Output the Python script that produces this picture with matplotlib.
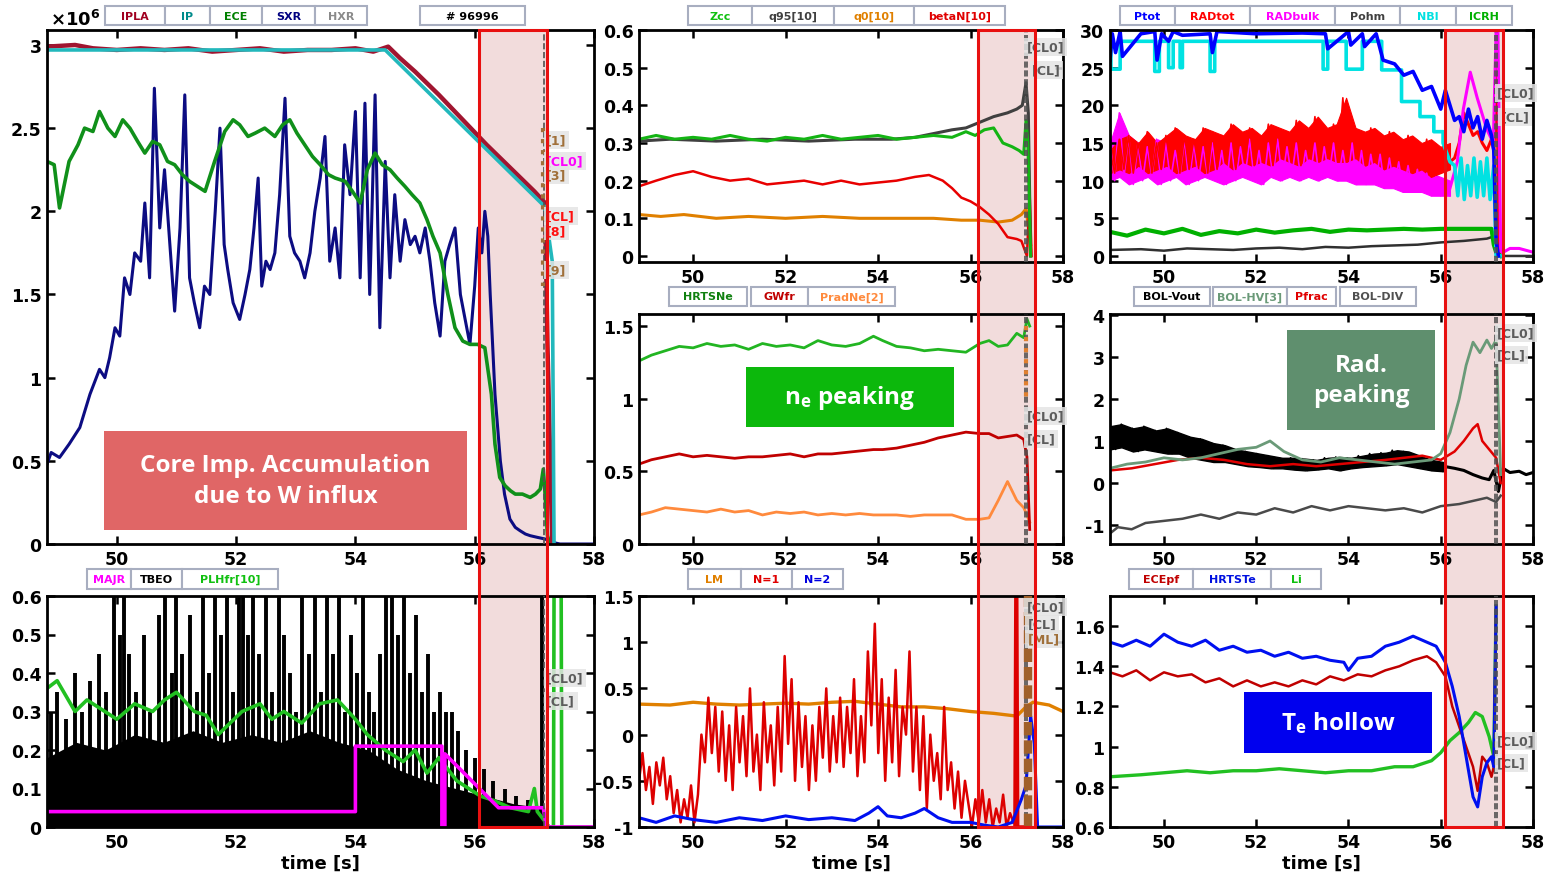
import numpy as np
import matplotlib
matplotlib.use('Agg')
import matplotlib.pyplot as plt
from matplotlib.patches import Rectangle
from matplotlib.ticker import FuncFormatter

plt.rcParams['font.family'] = 'DejaVu Sans'
plt.rcParams['font.weight'] = 'bold'
plt.rcParams['mathtext.fontset'] = 'custom'
plt.rcParams['mathtext.rm'] = 'DejaVu Sans'
plt.rcParams['mathtext.bf'] = 'DejaVu Sans:bold'
plt.rcParams['mathtext.it'] = 'Open Sans:bold'

# ---------------- data (pulse #96996) ----------------
# plasma current [MA], ECE, SXR (arb. units, x1e6)
ipla_t = [48.83, 49.3, 49.6, 50.0, 50.4, 50.8, 51.2, 51.6, 52.0, 52.4, 52.8, 53.2, 53.6,
          54.0, 54.3, 54.55, 54.75, 55.0, 55.4, 55.8, 56.2, 56.6, 57.0, 57.18, 57.22, 57.3]
ipla = [2.99, 3.0, 2.98, 2.97, 2.98, 2.97, 2.98, 2.96, 2.97, 2.98, 2.96, 2.97, 2.97,
        2.98, 2.96, 2.99, 2.92, 2.84, 2.7, 2.55, 2.4, 2.26, 2.12, 2.05, 1.2, 0.0]
ip_t = [48.83, 54.5, 57.17, 57.3, 57.33]
ip = [2.97, 2.97, 2.03, 1.7, 0.0]

ece_t = [48.83, 48.95, 49.04, 49.2, 49.35, 49.46, 49.6, 49.71, 49.85, 49.97, 50.1, 50.22, 50.35,
         50.47, 50.6, 50.72, 50.85, 50.97, 51.1, 51.22, 51.35, 51.48, 51.64, 51.81, 51.95, 52.06,
         52.2, 52.32, 52.48, 52.65, 52.78, 52.9, 53.02, 53.15, 53.28, 53.41, 53.55, 53.66, 53.83,
         53.95, 54.08, 54.2, 54.33, 54.45, 54.58, 54.7, 54.83, 54.95, 55.08, 55.2, 55.3, 55.42,
         55.55, 55.67, 55.8, 55.92, 56.05, 56.17, 56.28, 56.34, 56.42, 56.51, 56.6, 56.68, 56.8,
         56.93, 57.02, 57.1, 57.15, 57.18, 57.22, 57.26]
ece = [2.3, 2.28, 2.02, 2.3, 2.4, 2.5, 2.48, 2.6, 2.5, 2.45, 2.55, 2.5, 2.42,
       2.35, 2.42, 2.4, 2.3, 2.28, 2.22, 2.18, 2.15, 2.12, 2.3, 2.48, 2.55, 2.52,
       2.45, 2.47, 2.5, 2.45, 2.52, 2.55, 2.47, 2.4, 2.33, 2.28, 2.22, 2.2, 2.18,
       2.12, 2.05, 2.25, 2.35, 2.28, 2.25, 2.2, 2.15, 2.1, 2.05, 1.95, 1.85, 1.75,
       1.5, 1.3, 1.22, 1.2, 1.2, 1.18, 0.9, 0.6, 0.4, 0.35, 0.32, 0.3, 0.3,
       0.28, 0.3, 0.33, 0.45, 0.3, 0.05, 0.0]

sxr_t = [48.83, 48.9, 49.04, 49.2, 49.38, 49.55, 49.71, 49.8, 49.88, 49.97, 50.05, 50.13, 50.22,
         50.3, 50.4, 50.47, 50.55, 50.63, 50.72, 50.8, 50.89, 50.97, 51.06, 51.14, 51.22, 51.3,
         51.39, 51.47, 51.56, 51.65, 51.73, 51.8, 51.86, 51.95, 52.06, 52.15, 52.23, 52.3, 52.37,
         52.43, 52.5, 52.57, 52.65, 52.73, 52.82, 52.9, 52.98, 53.07, 53.15, 53.24, 53.32, 53.41,
         53.49, 53.57, 53.66, 53.74, 53.82, 53.91, 54.0, 54.08, 54.16, 54.24, 54.33, 54.41, 54.5,
         54.58, 54.66, 54.75, 54.83, 54.92, 55.0, 55.08, 55.17, 55.25, 55.33, 55.42, 55.5, 55.58,
         55.67, 55.76, 55.84, 55.92, 56.0, 56.06, 56.12, 56.17, 56.22, 56.26, 56.3, 56.34, 56.43,
         56.5, 56.59, 56.68, 56.76, 56.85, 56.93, 57.05, 57.18, 57.3, 57.43, 58.0]
sxr = [0.48, 0.55, 0.52, 0.6, 0.7, 0.9, 1.05, 1.0, 1.12, 1.3, 1.25, 1.6, 1.5,
       1.75, 1.7, 2.05, 1.6, 2.74, 1.9, 2.25, 1.8, 1.4, 1.9, 2.7, 1.6, 1.45,
       1.3, 1.55, 1.5, 2.0, 2.5, 1.8, 1.65, 1.45, 1.35, 1.5, 1.65, 1.9, 2.2,
       1.55, 1.7, 1.65, 1.75, 2.1, 2.68, 1.85, 1.75, 1.7, 1.6, 1.75, 2.0, 2.2,
       2.45, 1.7, 1.9, 1.6, 2.4, 2.1, 2.6, 1.6, 2.65, 1.5, 2.7, 1.3, 2.3,
       1.6, 2.1, 1.7, 1.95, 1.8, 1.85, 1.75, 1.9, 1.7, 1.45, 1.25, 1.7, 1.8,
       1.9, 1.5, 1.35, 1.2, 1.55, 1.9, 1.75, 2.0, 1.85, 1.5, 1.2, 0.9, 0.5,
       0.3, 0.15, 0.1, 0.08, 0.06, 0.05, 0.04, 0.03, 0.01, 0.0, 0.0]

# Zcc, q95, q0, betaN
zcc_t = [48.83, 49.2, 49.6, 50.0, 50.4, 50.8, 51.2, 51.6, 52.0, 52.4, 52.8, 53.2, 53.6, 54.0, 54.4,
         54.8, 55.2, 55.6, 55.9, 56.1, 56.3, 56.5, 56.7, 56.9, 57.05, 57.15, 57.2, 57.24, 57.3]
zcc = [0.31, 0.32, 0.31, 0.315, 0.31, 0.32, 0.31, 0.305, 0.315, 0.31, 0.32, 0.31, 0.315, 0.32, 0.31,
       0.315, 0.32, 0.315, 0.33, 0.32, 0.335, 0.34, 0.3, 0.29, 0.28, 0.27, 0.36, 0.3, 0.0]
q95_t = [48.83, 49.5, 50.5, 51.5, 52.5, 53.5, 54.3, 54.8, 55.2, 55.6, 55.9, 56.2, 56.5, 56.8,
         57.0, 57.12, 57.2, 57.25, 57.3]
q95 = [0.305, 0.31, 0.305, 0.31, 0.305, 0.31, 0.31, 0.315, 0.325, 0.335, 0.34, 0.355, 0.37, 0.38,
       0.39, 0.4, 0.46, 0.38, 0.0]
q0_t = [48.83, 49.3, 49.8, 50.5, 51.2, 52.0, 52.8, 53.6, 54.4, 55.2, 55.8, 56.2, 56.6, 56.9,
        57.1, 57.2, 57.3]
q0 = [0.11, 0.105, 0.11, 0.1, 0.105, 0.1, 0.105, 0.1, 0.1, 0.1, 0.095, 0.095, 0.09, 0.095,
      0.11, 0.125, 0.03]
betan_t = [48.83, 49.2, 49.6, 50.0, 50.4, 50.8, 51.2, 51.6, 52.0, 52.4, 52.8, 53.2, 53.6, 54.0,
           54.4, 54.8, 55.1, 55.4, 55.6, 55.8, 56.0, 56.2, 56.4, 56.6, 56.8, 57.0, 57.1, 57.22,
           57.28, 57.32]
betan = [0.185, 0.2, 0.215, 0.225, 0.21, 0.2, 0.205, 0.19, 0.195, 0.2, 0.19, 0.2, 0.19, 0.195,
         0.2, 0.21, 0.215, 0.2, 0.18, 0.155, 0.145, 0.13, 0.11, 0.085, 0.05, 0.045, 0.04, 0.0,
         0.16, 0.0]

# HRTS ne peaking, Greenwald fraction, Prad/ne
ne_t = [48.83, 49.1, 49.4, 49.7, 50.0, 50.3, 50.6, 50.9, 51.2, 51.5, 51.8, 52.1, 52.4, 52.7,
        53.0, 53.3, 53.6, 53.9, 54.1, 54.4, 54.7, 55.0, 55.3, 55.6, 55.9, 56.2, 56.4, 56.6,
        56.8, 57.0, 57.15, 57.22, 57.28]
hrtsne = [1.26, 1.3, 1.33, 1.36, 1.35, 1.38, 1.36, 1.37, 1.34, 1.38, 1.36, 1.37, 1.35, 1.4,
          1.37, 1.36, 1.38, 1.43, 1.4, 1.36, 1.35, 1.33, 1.34, 1.33, 1.32, 1.38, 1.4, 1.36,
          1.37, 1.45, 1.42, 1.55, 1.5]
gwfr = [0.55, 0.58, 0.6, 0.62, 0.6, 0.61, 0.6, 0.59, 0.6, 0.6, 0.61, 0.62, 0.6, 0.62,
        0.62, 0.63, 0.64, 0.65, 0.65, 0.66, 0.68, 0.7, 0.73, 0.75, 0.77, 0.76, 0.76, 0.73,
        0.74, 0.75, 0.72, 0.6, 0.1]
pradne = [0.2, 0.22, 0.25, 0.24, 0.23, 0.22, 0.24, 0.22, 0.23, 0.2, 0.22, 0.21, 0.22, 0.2,
          0.21, 0.2, 0.21, 0.2, 0.2, 0.2, 0.19, 0.2, 0.2, 0.2, 0.17, 0.17, 0.18, 0.3,
          0.43, 0.3, 0.25, 0.2, 0.15]

# MHD: locked mode, n=1, n=2
lm_t = [48.83, 49.5, 50.0, 50.5, 51.0, 51.5, 52.0, 52.5, 53.0, 53.5, 54.0, 54.5, 55.0, 55.5,
        56.0, 56.5, 57.0, 57.2, 57.35, 57.7, 58.0]
lm = [0.33, 0.32, 0.35, 0.33, 0.32, 0.33, 0.34, 0.33, 0.35, 0.36, 0.33, 0.3, 0.3, 0.28,
      0.25, 0.23, 0.2, 0.3, 0.35, 0.32, 0.25]
n1 = [-0.5, -0.2, -0.6, -0.35, -0.75, -0.3, -0.55, -0.25, -0.7, -0.45,
      -0.85, -0.6, -0.95, -0.7, -0.9, -0.55, -0.95, -0.65, 0.0, -0.3,
      0.4, -0.2, 0.3, -0.4, 0.25, -0.5, 0.1, -0.6, 0.3, -0.3,
      0.2, -0.45, 0.5, -0.4, 0.0, -0.6, 0.35, -0.3, 0.1, -0.55,
      0.3, -0.4, 0.85, -0.1, 0.6, -0.5, 0.35, -0.35, 0.2, -0.6,
      0.1, -0.5, 0.3, -0.25, 0.5, -0.4, 0.2, -0.3, 0.4, -0.35,
      0.3, -0.2, 0.6, -0.45, 0.2, -0.3, 0.9, 0.1, 1.2, -0.2,
      0.6, -0.5, 0.4, -0.3, 0.7, -0.45, 0.3, 0.0, 0.9, -0.4,
      0.3, -0.6, 0.2, -0.8, 0.0, -0.5, -0.2, -0.7, 0.3, -0.6,
      -0.3, -0.8, -0.4, -0.9, -0.5, -0.75, -1.0, -0.7, -0.95, -0.6,
      -0.95, -0.7, -1.0, -0.8, -0.95, -0.65, -1.0, -0.85, -0.95]
n1_tail_t = [56.96, 56.98, 57.0, 57.02, 57.15]
n1_tail = [-1.0, 1.5, 1.5, -1.0, -1.0]
n2_t = [48.83, 49.2, 49.6, 50.0, 50.5, 51.0, 51.5, 52.0, 52.5, 53.0, 53.5, 53.8, 54.0, 54.2,
        54.5, 54.8, 55.0, 55.3, 55.6, 56.0, 56.3, 56.6, 56.9, 57.1, 57.2, 57.3, 57.38, 57.45, 58.0]
n2 = [-0.9, -0.95, -0.88, -0.92, -0.95, -0.9, -0.93, -0.88, -0.92, -0.9, -0.93, -0.85, -0.78, -0.88,
      -0.9, -0.85, -0.8, -0.9, -0.95, -0.95, -0.98, -1.0, -0.95, -0.7, -0.55, 0.2, -0.1, -1.0, -1.0]

# Powers [MW]
nbi_t = [48.83, 48.85, 48.85, 49.05, 49.05, 49.8, 49.8, 49.9, 49.9, 50.1, 50.1, 50.2, 50.2,
         50.35, 50.35, 50.4, 50.4, 51.0, 51.0, 51.1, 51.1, 53.45, 53.45, 53.55, 53.55, 53.95,
         53.95, 54.3, 54.3, 54.72, 54.72, 55.15, 55.15, 55.55, 55.55, 55.85, 55.85, 56.05, 56.05,
         56.2, 56.3, 56.37, 56.44, 56.51, 56.58, 56.65, 56.72, 56.79, 56.86, 56.93, 57.0, 57.07,
         57.15, 57.2, 57.3]
nbi = [28.5, 28.5, 24.8, 24.8, 28.5, 28.5, 24.5, 24.5, 28.5, 28.5, 25.0, 25.0, 28.5,
       28.5, 25.0, 25.0, 28.5, 28.5, 24.5, 24.5, 28.5, 28.5, 24.8, 24.8, 28.5, 28.5,
       24.8, 24.8, 28.5, 28.5, 24.7, 24.7, 20.5, 20.5, 18.5, 18.5, 16.5, 16.5, 15.0,
       12.5, 12.0, 8.0, 13.0, 7.5, 12.0, 8.0, 13.0, 7.8, 12.5, 8.0, 13.0, 7.5,
       12.0, 0.0, 0.0]
ptot_t = [48.83, 48.88, 48.95, 49.05, 49.1, 49.5, 49.8, 49.85, 49.95, 50.1, 50.2, 50.4, 51.0,
          51.05, 51.15, 52.0, 53.0, 53.5, 53.55, 54.0, 54.05, 54.3, 54.35, 54.6, 54.75, 55.0,
          55.2, 55.4, 55.6, 55.8, 56.0, 56.1, 56.2, 56.3, 56.4, 56.5, 56.6, 56.7, 56.8, 56.9,
          57.0, 57.1, 57.15, 57.2, 57.25]
ptot = [26.0, 29.5, 27.0, 29.8, 26.5, 29.5, 29.8, 26.0, 29.5, 28.5, 29.8, 29.3, 29.5,
        27.0, 29.8, 29.5, 29.6, 29.5, 27.5, 29.8, 28.0, 29.5, 27.8, 29.5, 26.0, 25.5,
        24.0, 24.5, 22.0, 22.5, 19.5, 22.0, 20.0, 18.0, 18.5, 16.5, 19.5, 17.0, 18.5, 15.5,
        18.0, 16.0, 14.0, 2.0, 0.0]
rad_hi = [14, 15.5, 16, 15, 16.5, 15, 16, 17, 16, 15.5, 17, 16.5, 16, 17.5, 16.5, 17, 16, 17.5,
          17, 16.5, 18, 17, 18.5, 17, 17.5, 21, 17, 16.5, 17, 16, 16.5, 15.5, 16, 15, 15.5,
          14.5, 15]
rad_lo = [11, 11.5, 11, 12, 11, 11.5, 12, 11, 11.5, 12, 11, 11.5, 12.5, 11.5, 12.5, 12, 12.5,
          12, 13, 12.5, 12, 13, 12.5, 13, 12.5, 12.5, 13, 12, 12.5, 11.5, 12, 11.5, 11, 11.5,
          10.5, 11, 11.5]
radtot_t = [56.2, 56.3, 56.4, 56.5, 56.6, 56.7, 56.8, 56.9, 57.0, 57.1, 57.15, 57.2, 57.22,
            57.25, 57.3]
radtot = [12.5, 13.0, 15.0, 19.0, 17.5, 16.0, 16.5, 15.0, 14.0, 15.5, 14.0, 20.0, 30.0, 0.5, 0.3]
bulk_hi = [15, 19, 16, 15, 14.5, 15.5, 15, 14, 15.5, 15, 14.5, 15, 14, 15, 14.5, 15.5, 14, 15,
           15.5, 14.5, 15, 14, 15, 14.5, 15, 14, 15, 14, 13.5, 13.5, 13, 12.5, 12, 11.5, 11,
           10.5, 10]
bulk_lo = [10, 10.5, 9.5, 10, 10.5, 9.5, 10, 10.5, 9.5, 10, 10.5, 10, 9.5, 10, 10.5, 10, 9.5,
           10.5, 10, 10.5, 10, 10.5, 10, 10.5, 10, 10, 9.5, 9.5, 9.5, 9, 9, 8.5, 8.5, 8.5, 8,
           8, 8]
radbulk_t = [56.2, 56.36, 56.49, 56.64, 56.79, 57.0, 57.14, 57.2, 57.24, 57.3, 57.5, 57.7, 58.0]
radbulk = [9.0, 12.5, 19.5, 24.4, 21.0, 16.8, 15.0, 30.0, 30.0, 0.3, 1.0, 1.0, 0.5]
pohm_t = [48.83, 49.5, 50.0, 50.5, 51.0, 51.5, 52.0, 52.5, 53.0, 53.5, 54.0, 54.5, 55.0, 55.5,
          56.0, 56.5, 57.0, 57.15, 57.2, 57.3, 58.0]
pohm = [0.8, 0.9, 0.7, 1.0, 0.9, 0.8, 1.0, 1.1, 0.9, 1.2, 1.1, 1.3, 1.4, 1.5,
        1.8, 2.0, 2.3, 2.6, 0.3, 0.0, 0.0]
icrh_t = [48.83, 49.2, 49.6, 50.0, 50.4, 50.8, 51.2, 51.6, 52.0, 52.4, 52.8, 53.2, 53.6, 54.0,
          54.4, 54.8, 55.2, 55.6, 56.0, 56.4, 56.8, 57.1, 57.15, 57.2, 57.3]
icrh = [3.2, 2.7, 3.5, 3.0, 3.6, 2.8, 3.3, 3.0, 3.5, 3.1, 3.4, 3.6, 3.2, 3.5,
        3.4, 3.5, 3.6, 3.5, 3.6, 3.6, 3.6, 3.6, 1.5, 0.5, 0.0]

# Bolometry peaking
vout_hi = [1.35, 1.4, 1.3, 1.35, 1.25, 1.3, 1.2, 1.1, 1.05, 0.95, 0.9, 0.8, 0.75, 0.7, 0.65,
           0.6, 0.6, 0.58, 0.55, 0.6, 0.62, 0.6, 0.65, 0.7, 0.72, 0.78, 0.75, 0.65, 0.55, 0.5]
vout_lo = [0.8, 0.85, 0.75, 0.8, 0.75, 0.7, 0.7, 0.6, 0.55, 0.5, 0.5, 0.45, 0.4, 0.38, 0.35,
           0.35, 0.32, 0.3, 0.32, 0.35, 0.3, 0.35, 0.38, 0.4, 0.42, 0.45, 0.4, 0.35, 0.3, 0.28]
vout_tail_t = [56.05, 56.3, 56.5, 56.7, 56.9, 57.05, 57.15, 57.25, 57.35, 57.5, 57.7, 57.85, 58.0]
vout_tail = [0.4, 0.35, 0.3, 0.2, 0.12, 0.08, 0.3, -0.2, 0.35, 0.25, 0.28, 0.2, 0.25]
bolhv_t = [48.83, 49.2, 49.6, 50.0, 50.4, 50.8, 51.2, 51.6, 52.0, 52.3, 52.6, 53.0, 53.4, 53.8,
           54.2, 54.6, 55.0, 55.4, 55.8, 56.0, 56.2, 56.4, 56.55, 56.7, 56.85, 57.0, 57.1, 57.2,
           57.3]
bolhv = [0.35, 0.45, 0.5, 0.6, 0.55, 0.6, 0.7, 0.8, 0.85, 1.0, 0.75, 0.55, 0.5, 0.6,
         0.55, 0.5, 0.45, 0.5, 0.55, 0.7, 1.2, 2.0, 2.8, 3.35, 3.1, 3.4, 3.2, 3.4, 0.2]
pfrac_t = [48.83, 49.3, 49.8, 50.3, 50.8, 51.3, 51.8, 52.3, 52.8, 53.3, 53.8, 54.3, 54.8, 55.2,
           55.6, 56.0, 56.3, 56.5, 56.7, 56.8, 56.9, 57.05, 57.2, 57.3]
pfrac = [0.3, 0.35, 0.45, 0.55, 0.6, 0.55, 0.45, 0.4, 0.45, 0.4, 0.45, 0.5, 0.55, 0.6,
         0.65, 0.55, 0.75, 1.0, 1.3, 1.4, 1.0, 0.8, 0.6, 0.0]
boldiv_t = [48.83, 49.0, 49.3, 49.6, 50.0, 50.4, 50.8, 51.2, 51.6, 52.0, 52.4, 52.8, 53.2, 53.6,
            54.0, 54.4, 54.8, 55.2, 55.6, 56.0, 56.4, 56.8, 57.0, 57.2, 57.3]
boldiv = [-1.2, -1.05, -1.1, -0.95, -0.9, -0.85, -0.75, -0.85, -0.7, -0.75, -0.6, -0.7, -0.55,
          -0.65, -0.55, -0.6, -0.65, -0.6, -0.7, -0.55, -0.5, -0.4, -0.35, -0.45, -0.3]

# L-H power fraction, MAJR, TBEO
tbeo_band = [0.18, 0.22, 0.2, 0.24, 0.22, 0.25, 0.22, 0.24, 0.22, 0.25, 0.22, 0.2, 0.15, 0.12,
             0.1, 0.08, 0.06, 0.05]
spike_t = [48.9, 49.0, 49.15, 49.3, 49.42, 49.55, 49.7, 49.82, 49.95, 50.05, 50.12, 50.2, 50.33,
           50.45, 50.55, 50.7, 50.8, 50.92, 51.0, 51.1, 51.22, 51.35, 51.45, 51.55, 51.65, 51.75,
           51.85, 51.95, 52.05, 52.12, 52.2, 52.28, 52.38, 52.5, 52.6, 52.72, 52.8, 52.9, 53.0,
           53.1, 53.22, 53.32, 53.42, 53.52, 53.62, 53.72, 53.82, 53.92, 54.02, 54.12, 54.22,
           54.32, 54.42, 54.52, 54.62, 54.72, 54.82, 54.92, 55.02, 55.12, 55.22, 55.32, 55.42,
           55.52, 55.62, 55.72, 55.85, 56.0, 56.15, 56.3, 56.5, 56.7, 56.9, 57.12]
spike_h = [0.3, 0.35, 0.28, 0.4, 0.3, 0.38, 0.45, 0.35, 0.6, 0.5, 0.6, 0.45, 0.35,
           0.5, 0.3, 0.55, 0.6, 0.4, 0.6, 0.45, 0.55, 0.35, 0.6, 0.4, 0.6, 0.5,
           0.6, 0.35, 0.6, 0.6, 0.5, 0.6, 0.45, 0.6, 0.35, 0.6, 0.5, 0.4, 0.3,
           0.6, 0.45, 0.6, 0.35, 0.6, 0.45, 0.6, 0.3, 0.5, 0.4, 0.6, 0.35,
           0.3, 0.45, 0.6, 0.6, 0.5, 0.6, 0.4, 0.55, 0.35, 0.45, 0.3, 0.35,
           0.3, 0.3, 0.25, 0.2, 0.18, 0.15, 0.12, 0.1, 0.08, 0.07, 0.6]
majr_t = [48.83, 54.0, 54.0, 55.45, 55.45, 55.5, 55.5, 56.4, 57.15, 57.2, 58.0]
majr = [0.04, 0.04, 0.21, 0.21, 0.0, 0.0, 0.19, 0.05, 0.05, 0.0, 0.0]
plh_t = [48.83, 49.0, 49.3, 49.5, 49.7, 50.0, 50.3, 50.6, 50.8, 51.0, 51.3, 51.5, 51.7, 51.9,
         52.1, 52.4, 52.6, 52.8, 53.1, 53.4, 53.7, 54.0, 54.2, 54.5, 54.8, 55.0, 55.2, 55.4,
         55.5, 55.7, 55.9, 56.1, 56.3, 56.6, 56.9, 57.0, 57.05, 57.15, 57.25, 57.32, 57.33,
         57.45, 57.46, 58.0]
plh = [0.36, 0.38, 0.3, 0.33, 0.31, 0.28, 0.32, 0.3, 0.33, 0.35, 0.3, 0.29, 0.24, 0.27,
       0.3, 0.32, 0.28, 0.3, 0.27, 0.32, 0.33, 0.28, 0.24, 0.2, 0.17, 0.2, 0.14, 0.18,
       0.16, 0.12, 0.1, 0.08, 0.07, 0.05, 0.04, 0.1, 0.04, 0.02, 0.0, 0.0, 0.6,
       0.6, 0.0, 0.0]

# Te hollowness
te_t = [48.83, 49.1, 49.4, 49.7, 50.0, 50.3, 50.6, 50.9, 51.2, 51.5, 51.8, 52.1, 52.4, 52.7,
        53.0, 53.3, 53.6, 53.9, 54.0, 54.2, 54.5, 54.8, 55.1, 55.4, 55.7, 55.9, 56.1, 56.25,
        56.4, 56.55, 56.7, 56.8, 56.9, 57.0, 57.1, 57.15, 57.2]
hrtste = [1.52, 1.5, 1.53, 1.5, 1.56, 1.52, 1.5, 1.53, 1.48, 1.5, 1.47, 1.48, 1.45, 1.47,
          1.44, 1.45, 1.43, 1.42, 1.38, 1.44, 1.45, 1.5, 1.52, 1.55, 1.52, 1.5, 1.42, 1.3,
          1.15, 0.95, 0.75, 0.7, 0.85, 0.92, 0.95, 0.9, 1.7]
ecepf = [1.37, 1.35, 1.38, 1.33, 1.37, 1.35, 1.36, 1.32, 1.34, 1.3, 1.33, 1.3, 1.32, 1.3,
         1.33, 1.31, 1.35, 1.33, 1.34, 1.36, 1.35, 1.38, 1.4, 1.43, 1.45, 1.42, 1.35, 1.2,
         1.1, 1.0, 0.9, 0.78, 0.95, 0.92, 0.85, 0.9, 1.7]
li_t = [48.83, 49.5, 50.0, 50.5, 51.0, 51.5, 52.0, 52.5, 53.0, 53.5, 54.0, 54.5, 55.0, 55.4,
        55.8, 56.0, 56.2, 56.4, 56.6, 56.75, 56.9, 57.05, 57.15, 57.2]
li = [0.85, 0.86, 0.87, 0.88, 0.87, 0.88, 0.88, 0.89, 0.88, 0.87, 0.88, 0.88, 0.9, 0.9,
      0.93, 0.97, 1.03, 1.07, 1.12, 1.17, 1.15, 1.05, 0.95, 1.7]

xticks = [50, 52, 54, 56, 58]
cursor_t = [57.17, 57.23]
win_left = (56.07, 57.21)
win_mid = (56.16, 57.39)
win_right = (56.1, 57.35)

# ---------------- figure ----------------
W, H = 1546, 878
fig = plt.figure(figsize=(W / 100, H / 100), dpi=100)


def px_rect(x0, y0, x1, y1):
    return [x0 / W, 1 - y1 / H, (x1 - x0) / W, (y1 - y0) / H]


fmt = FuncFormatter(lambda v, p: '%g' % round(v, 3))


def style(ax, ylim, yticks, xlabel=False):
    ax.set_xlim(48.83, 58)
    ax.set_ylim(*ylim)
    ax.set_xticks(xticks)
    ax.set_yticks(yticks)
    ax.yaxis.set_major_formatter(fmt)
    ax.tick_params(direction='in', length=6, width=1.8, top=True, right=True,
                   labelsize=12.5, pad=4)
    for lab in ax.get_xticklabels() + ax.get_yticklabels():
        lab.set_fontweight('bold')
    for s in ax.spines.values():
        s.set_linewidth(2)
    ax.set_facecolor('none')
    for t in cursor_t:
        ax.axvline(t, color='#505050', ls='--', lw=1.2, zorder=4)
    if xlabel:
        ax.set_xlabel('time [s]', fontsize=13, fontweight='bold', labelpad=2)


def tag(ax, x, y, s, color='#5c5c5c'):
    ax.text(x, y, s, fontsize=9, color=color, fontweight='bold', ha='left', va='center',
            zorder=7, clip_on=False,
            bbox=dict(facecolor='#e4e4e4', edgecolor='none', alpha=0.85, pad=1.8))


def zigzag(t, hi, lo):
    # trace alternating between the read upper and lower envelope values
    tt = np.linspace(t[0], t[-1], 2 * len(t))
    vv = np.ravel(np.column_stack([hi, lo]))
    return tt, vv


def legend_cells(edges, y0, y1, labels, colors):
    for (a, b), lab, col in zip(edges, labels, colors):
        fig.patches.append(Rectangle((a / W, 1 - y1 / H), (b - a) / W, (y1 - y0) / H,
                                     transform=fig.transFigure, facecolor='white',
                                     edgecolor='#a8aec0', lw=1.5, zorder=3))
        fig.text((a + b) / 2 / W, 1 - (y0 + y1) / 2 / H, lab, color=col, fontsize=8,
                 fontweight='bold', ha='center', va='center', zorder=4)


def note_box(x0, y0, x1, y1, s, color):
    fig.patches.append(Rectangle((x0 / W, 1 - y1 / H), (x1 - x0) / W, (y1 - y0) / H,
                                 transform=fig.transFigure, facecolor=color, edgecolor='none',
                                 zorder=8))
    fig.text((x0 + x1) / 2 / W, 1 - (y0 + y1) / 2 / H, s, color='white', fontsize=17.5,
             family='Open Sans', fontweight='bold', ha='center', va='center', zorder=9,
             linespacing=1.35)


# top-left: currents, ECE, SXR
ax = fig.add_axes(px_rect(47, 31, 594, 545))
ax.plot(sxr_t, sxr, color='#0c0c82', lw=2.2)
ax.plot(ece_t, ece, color='#10901a', lw=2.6)
ax.plot(ipla_t, ipla, color='#a01530', lw=3.2)
ax.plot(ip_t, ip, color='#22b8bc', lw=2.6)
ax.plot([57.14, 57.14], [2.5, 1.55], ls=':', color='#a0703a', lw=3, zorder=5)
style(ax, (0, 3.09), [0, 0.5, 1, 1.5, 2, 2.5, 3])
for y, s, c in [(2.43, '[1]', '#a0703a'), (2.3, '[CL0]', '#ff00ff'), (2.22, '[3]', '#a0703a'),
                (1.97, '[CL]', '#ff1010'), (1.88, '[8]', '#ff1010'), (1.65, '[9]', '#a0703a')]:
    tag(ax, 57.2, y, s, c)
ax_tl = ax
fig.text(50 / W, 1 - 20 / H, r'$\times\mathbf{10^{6}}$', fontsize=13, va='center')

# bottom-left: L-H fraction etc.
ax = fig.add_axes(px_rect(47, 597, 594, 828))
ax.fill_between(np.linspace(48.83, 57.15, len(tbeo_band)), 0, tbeo_band, color='black', lw=0)
ax.vlines(spike_t, 0, spike_h, color='black', lw=2.8)
ax.plot(plh_t, plh, color='#22c022', lw=2.6)
ax.plot(majr_t, majr, color='#ff00ff', lw=2.6)
style(ax, (0, 0.6), [0, 0.1, 0.2, 0.3, 0.4, 0.5, 0.6], xlabel=True)
tag(ax, 57.2, 0.387, '[CL0]')
tag(ax, 57.2, 0.327, '[CL]')
ax_bl = ax

# top-middle
ax = fig.add_axes(px_rect(639, 31, 1063, 263))
ax.plot(q0_t, q0, color='#e08000', lw=2.2)
ax.plot(betan_t, betan, color='#e80000', lw=1.8)
ax.plot(q95_t, q95, color='#404040', lw=2.2)
ax.plot(zcc_t, zcc, color='#14b414', lw=2.2)
style(ax, (-0.016, 0.6), [0, 0.1, 0.2, 0.3, 0.4, 0.5, 0.6])
tag(ax, 57.22, 0.554, '[CL0]')
tag(ax, 57.33, 0.493, '[CL]')
ax_tm = ax

# middle-middle
ax = fig.add_axes(px_rect(639, 315, 1063, 545))
ax.plot(ne_t, pradne, color='#ff8a3d', lw=2.0)
ax.plot(ne_t, gwfr, color='#c00000', lw=2.0)
ax.plot(ne_t, hrtsne, color='#22b522', lw=2.0)
ax.plot([57.2, 57.2], [1.5, 1.0], ls=':', color='#e08030', lw=3, zorder=5)
style(ax, (0, 1.583), [0, 0.5, 1, 1.5])
tag(ax, 57.22, 0.88, '[CL0]')
tag(ax, 57.22, 0.72, '[CL]')

# bottom-middle
ax = fig.add_axes(px_rect(639, 597, 1063, 828))
ax.plot(lm_t, lm, color='#e08000', lw=2.4)
ax.plot(np.linspace(48.83, 56.93, len(n1)), n1, color='#dd0000', lw=1.8)
ax.plot(n1_tail_t, n1_tail, color='#dd0000', lw=2.5)
ax.plot(n2_t, n2, color='#0010f0', lw=2.2)
ax.plot([57.24, 57.24], [-1, 1.5], color='#a0602a', lw=6, dashes=(1.6, 0.6), zorder=5)
style(ax, (-1, 1.5), [-1, -0.5, 0, 0.5, 1, 1.5], xlabel=True)
tag(ax, 57.22, 1.38, '[CL0]')
tag(ax, 57.24, 1.2, '[CL]')
tag(ax, 57.24, 1.03, '[ML]', '#a0703a')
ax_bm = ax

# top-right: powers
ax = fig.add_axes(px_rect(1110, 31, 1533, 263))
rad_t = np.linspace(48.83, 56.2, len(rad_hi))
ax.fill_between(rad_t, bulk_lo, bulk_hi, color='#ff00ff', lw=0.8)
ax.plot(*zigzag(rad_t, bulk_hi, bulk_lo), color='#ff00ff', lw=1.2)
ax.fill_between(rad_t, rad_lo, rad_hi, color='#ff0000', lw=0.8)
ax.plot(*zigzag(rad_t, rad_hi, rad_lo), color='#ff0000', lw=1.2)
ax.plot(radtot_t, radtot, color='#ff0000', lw=2.2)
ax.plot(radbulk_t, radbulk, color='#ff00ff', lw=2.2)
ax.plot(pohm_t, pohm, color='#303030', lw=1.8)
ax.plot(icrh_t, icrh, color='#00b000', lw=3.0)
ax.plot(nbi_t, nbi, color='#00e2e2', lw=2.6)
ax.plot(ptot_t, ptot, color='#0000ff', lw=2.6)
style(ax, (-0.8, 30), [0, 5, 10, 15, 20, 25, 30])
tag(ax, 57.22, 21.6, '[CL0]')
tag(ax, 57.3, 18.5, '[CL]')
ax_tr = ax

# middle-right: bolometry
ax = fig.add_axes(px_rect(1110, 315, 1533, 545))
ax.plot(boldiv_t, boldiv, color='#4a4a4a', lw=1.8)
vout_t = np.linspace(48.83, 56.05, len(vout_hi))
ax.fill_between(vout_t, vout_lo, vout_hi, color='black', lw=1)
ax.plot(*zigzag(vout_t, vout_hi, vout_lo), color='black', lw=1.2)
ax.plot(vout_tail_t, vout_tail, color='black', lw=2.2)
ax.plot(pfrac_t, pfrac, color='#e00000', lw=1.8)
ax.plot(bolhv_t, bolhv, color='#6a9a78', lw=2.0)
style(ax, (-1.45, 4.02), [-1, 0, 1, 2, 3, 4])
tag(ax, 57.22, 3.58, '[CL0]')
tag(ax, 57.22, 3.04, '[CL]')

# bottom-right: Te
ax = fig.add_axes(px_rect(1110, 597, 1533, 828))
ax.plot(li_t, li, color='#22c022', lw=2.4)
ax.plot(te_t, ecepf, color='#c00000', lw=1.8)
ax.plot(te_t, hrtste, color='#0010f0', lw=2.2)
style(ax, (0.6, 1.75), [0.6, 0.8, 1, 1.2, 1.4, 1.6], xlabel=True)
tag(ax, 57.22, 1.03, '[CL0]')
tag(ax, 57.22, 0.92, '[CL]')
ax_br = ax

# disruption window: shaded band + red outline spanning each column
inv = fig.transFigure.inverted()
for a_top, a_bot, (t0, t1) in [(ax_tl, ax_bl, win_left), (ax_tm, ax_bm, win_mid),
                               (ax_tr, ax_br, win_right)]:
    x0 = inv.transform(a_top.transData.transform((t0, 0)))[0]
    x1 = inv.transform(a_top.transData.transform((t1, 0)))[0]
    y0 = a_bot.get_position().y0
    y1 = a_top.get_position().y1
    fig.patches.append(Rectangle((x0, y0), x1 - x0, y1 - y0, transform=fig.transFigure,
                                 facecolor='#f2dcdc', edgecolor='none', zorder=-1))
    fig.patches.append(Rectangle((x0, y0), x1 - x0, y1 - y0, transform=fig.transFigure,
                                 fill=False, edgecolor='#e81010', lw=2.2, zorder=6))

# legend cells
legend_cells([(105, 165), (165, 210), (210, 262), (262, 315), (315, 367), (420, 525)], 7, 26,
             ['IPLA', 'IP', 'ECE', 'SXR', 'HXR', '# 96996'],
             ['#a00020', '#008b8b', '#008000', '#000080', '#8a8a8a', 'black'])
legend_cells([(688, 752), (752, 834), (834, 914), (914, 1005)], 7, 26,
             ['Zcc', 'q95[10]', 'q0[10]', 'betaN[10]'],
             ['#10c010', '#404040', '#e08000', '#e00000'])
legend_cells([(1120, 1175), (1175, 1250), (1250, 1335), (1335, 1400), (1400, 1456), (1456, 1512)],
             7, 26, ['Ptot', 'RADtot', 'RADbulk', 'Pohm', 'NBI', 'ICRH'],
             ['#0000ff', '#ff0000', '#ff00ff', '#404040', '#00e0e0', '#00b000'])
legend_cells([(669, 747), (751, 808), (808, 895)], 288, 307,
             ['HRTSNe', 'GWfr', 'PradNe[2]'], ['#108010', '#c00000', '#ff8a3d'])
legend_cells([(1134, 1210), (1213, 1287), (1287, 1336), (1340, 1416)], 288, 307,
             ['BOL-Vout', 'BOL-HV[3]', 'Pfrac', 'BOL-DIV'],
             ['black', '#6a9a78', '#e00000', '#505050'])
legend_cells([(87, 131), (131, 182), (182, 278)], 570, 590,
             ['MAJR', 'TBEO', 'PLHfr[10]'], ['#ff00ff', 'black', '#10c010'])
legend_cells([(688, 741), (741, 792), (792, 843)], 570, 590,
             ['LM', 'N=1', 'N=2'], ['#e08000', '#e00000', '#0000e0'])
legend_cells([(1129, 1193), (1193, 1271), (1271, 1321)], 570, 590,
             ['ECEpf', 'HRTSTe', 'Li'], ['#c00000', '#0010e0', '#10c010'])

# annotation boxes
note_box(104, 432, 467, 531, 'Core Imp. Accumulation\ndue to W influx', '#e06666')
note_box(746, 368, 954, 428, r'n$_{e}$ peaking', '#0cb80c')
note_box(1287, 331, 1435, 431, 'Rad.\npeaking', '#5f8f6e')
note_box(1244, 693, 1432, 754, r'T$_{e}$ hollow', '#0000ee')

fig.savefig('out.png', dpi=100)
